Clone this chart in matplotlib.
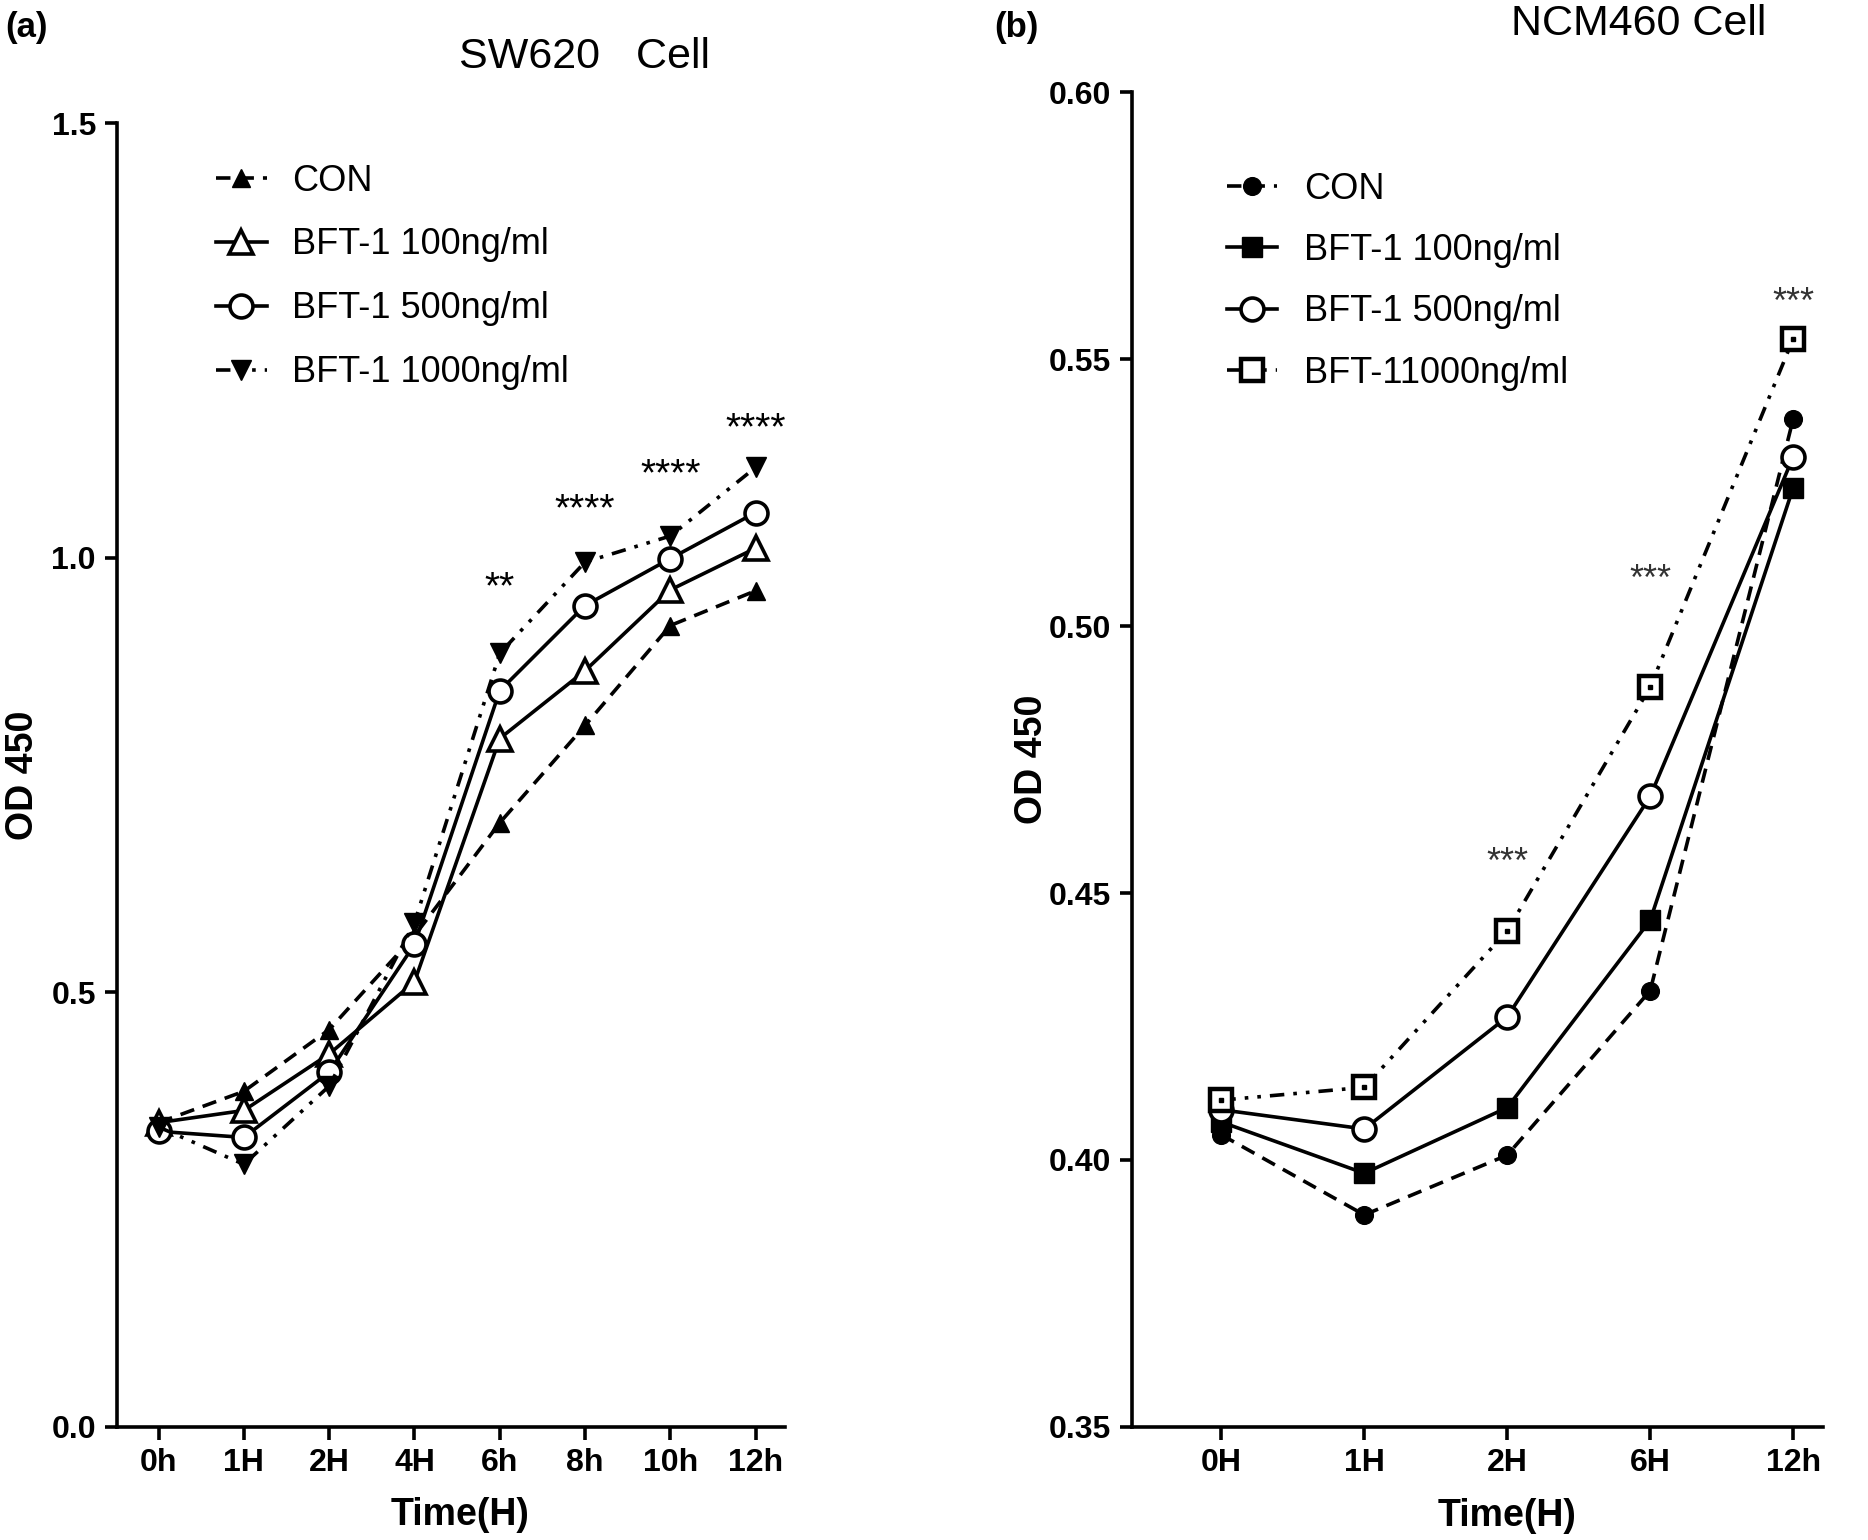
import matplotlib
matplotlib.use("Agg")
import matplotlib.pyplot as plt
from matplotlib.lines import Line2D

plt.rcParams['font.family'] = ['Liberation Sans', 'DejaVu Sans']

# ---- Panel (a) data: SW620 Cell ----
a_times = ["0h", "1H", "2H", "4H", "6h", "8h", "10h", "12h"]
a_con = [0.350, 0.386, 0.457, 0.565, 0.695, 0.807, 0.922, 0.962]
a_100 = [0.350, 0.364, 0.429, 0.512, 0.792, 0.870, 0.963, 1.011]
a_500 = [0.340, 0.333, 0.408, 0.555, 0.847, 0.945, 0.999, 1.052]
a_1000 = [0.345, 0.302, 0.392, 0.580, 0.890, 0.995, 1.025, 1.104]
a_labels = ["CON", "BFT-1 100ng/ml", "BFT-1 500ng/ml", "BFT-1 1000ng/ml"]
a_star_idx = [4, 5, 6, 7]
a_star_txt = ["**", "****", "****", "****"]
a_star_y = [0.965, 1.055, 1.095, 1.148]

# ---- Panel (b) data: NCM460 Cell ----
b_times = ["0H", "1H", "2H", "6H", "12h"]
b_con = [0.4047, 0.3897, 0.4009, 0.4317, 0.5388]
b_100 = [0.4071, 0.3975, 0.4098, 0.4449, 0.5259]
b_500 = [0.4094, 0.4058, 0.4268, 0.4681, 0.5317]
b_1000 = [0.4112, 0.4136, 0.4429, 0.4886, 0.5538]
b_labels = ["CON", "BFT-1 100ng/ml", "BFT-1 500ng/ml", "BFT-11000ng/ml"]
b_star_idx = [2, 3, 4]
b_star_txt = ["***", "***", "***"]
b_star_y = [0.4555, 0.5085, 0.5605]

fig = plt.figure(figsize=(18.68, 15.4), dpi=100)

LW = 2.6
MS = 15
dash = (0, (4, 2.5))
dashdotdot = (0, (4, 2.5, 1, 2.5, 1, 2.5))
TICK_FS = 23
LEG_FS = 26


def style_axes(ax):
    for s in ['top', 'right']:
        ax.spines[s].set_visible(False)
    for s in ['left', 'bottom']:
        ax.spines[s].set_linewidth(2.6)
    ax.tick_params(axis='both', width=2.6, length=9, pad=6, direction='out')
    for lab in ax.get_xticklabels() + ax.get_yticklabels():
        lab.set_fontweight('bold')
        lab.set_fontsize(TICK_FS)


# ---- Panel (a) ----
axa = fig.add_axes([0.0625, 0.0735, 0.358, 0.8465])
xa = list(range(len(a_times)))
axa.plot(xa, a_con, color='black', lw=LW, ls=dash, marker='^', ms=MS * 0.85,
         mfc='black', mec='black', label=a_labels[0])
axa.plot(xa, a_100, color='black', lw=LW, ls='-', marker='^', ms=MS * 1.15,
         mfc='white', mec='black', mew=2.6, label=a_labels[1])
axa.plot(xa, a_500, color='black', lw=LW, ls='-', marker='o', ms=MS * 1.1,
         mfc='white', mec='black', mew=2.6, label=a_labels[2])
axa.plot(xa, a_1000, color='black', lw=LW, ls=dashdotdot, marker='v', ms=MS * 0.95,
         mfc='black', mec='black', label=a_labels[3])
for i, t, y in zip(a_star_idx, a_star_txt, a_star_y):
    axa.text(xa[i], y, t, ha='center', va='center', fontsize=28)
axa.set_xlim(-0.49, 7.35)
axa.set_ylim(0.0, 1.5)
axa.set_xticks(xa)
axa.set_xticklabels(a_times)
axa.set_yticks([0.0, 0.5, 1.0, 1.5])
axa.set_yticklabels(["0.0", "0.5", "1.0", "1.5"])
style_axes(axa)
axa.set_xlabel("Time(H)", fontsize=27, fontweight='bold', va='top')
axa.xaxis.set_label_coords(0.514, -0.054)
axa.set_ylabel("OD 450", fontsize=27, fontweight='bold')
axa.yaxis.set_label_coords(-0.113, 0.50)
axa.set_title("SW620   Cell", fontsize=31, pad=40, x=0.70)
axa.legend(loc='upper left', bbox_to_anchor=(0.10, 0.994), frameon=False,
           fontsize=LEG_FS, handlelength=1.4, labelspacing=0.8, handletextpad=0.7)
fig.text(0.003, 0.982, "(a)", fontsize=25, fontweight='bold', va='center')

# ---- Panel (b) ----
axb = fig.add_axes([0.606, 0.0735, 0.370, 0.8665])
xb = list(range(len(b_times)))
axb.plot(xb, b_con, color='black', lw=LW, ls=dash, marker='o', ms=MS * 0.85,
         mfc='black', mec='black', label=b_labels[0])
axb.plot(xb, b_100, color='black', lw=LW, ls='-', marker='s', ms=MS * 0.95,
         mfc='black', mec='black', label=b_labels[1])
axb.plot(xb, b_500, color='black', lw=LW, ls='-', marker='o', ms=MS * 1.1,
         mfc='white', mec='black', mew=2.6, label=b_labels[2])
axb.plot(xb, b_1000, color='black', lw=LW, ls=dashdotdot, marker='s', ms=MS * 1.05,
         mfc='white', mec='black', mew=3.2, label=b_labels[3])
axb.plot(xb, b_1000, ls='none', marker='s', ms=3, mfc='black', mec='black')
for i, t, y in zip(b_star_idx, b_star_txt, b_star_y):
    axb.text(xb[i], y, t, ha='center', va='center', fontsize=26, color='#333333')
axb.set_xlim(-0.625, 4.21)
axb.set_ylim(0.35, 0.60)
axb.set_xticks(xb)
axb.set_xticklabels(b_times)
axb.set_yticks([0.35, 0.40, 0.45, 0.50, 0.55, 0.60])
axb.set_yticklabels(["0.35", "0.40", "0.45", "0.50", "0.55", "0.60"])
style_axes(axb)
axb.set_xlabel("Time(H)", fontsize=27, fontweight='bold', va='top')
axb.xaxis.set_label_coords(0.543, -0.053)
axb.set_ylabel("OD 450", fontsize=27, fontweight='bold')
axb.yaxis.set_label_coords(-0.118, 0.50)
axb.set_title("NCM460 Cell", fontsize=31, pad=41, x=0.733)
handles_b = [
    Line2D([], [], color='black', lw=LW, ls=dash, marker='o', ms=MS * 0.85, mfc='black', mec='black'),
    Line2D([], [], color='black', lw=LW, ls='-', marker='s', ms=MS * 0.95, mfc='black', mec='black'),
    Line2D([], [], color='black', lw=LW, ls='-', marker='o', ms=MS * 1.1, mfc='white', mec='black', mew=2.6),
    Line2D([], [], color='black', lw=LW, ls=dashdotdot, marker='s', ms=MS * 1.05, mfc='white', mec='black', mew=3.2),
]
axb.legend(handles_b, b_labels, loc='upper left', bbox_to_anchor=(0.09, 0.965), frameon=False,
           fontsize=LEG_FS, handlelength=1.4, labelspacing=0.73, handletextpad=0.75)
fig.text(0.532, 0.982, "(b)", fontsize=25, fontweight='bold', va='center')

fig.savefig("out.png", dpi=100)
